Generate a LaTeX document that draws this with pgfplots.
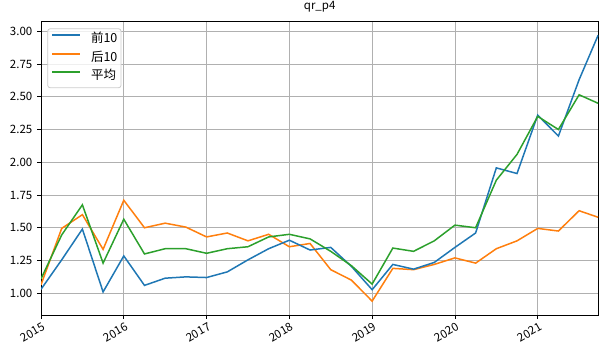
\documentclass[border=0pt]{standalone}
\usepackage{fontspec}
\setmainfont{Noto Sans CJK SC}
\usepackage{pgfplots}
\usepackage{pgfplotstable}
\pgfplotsset{compat=1.18}
\definecolor{tabblue}{HTML}{1F77B4}
\definecolor{taborange}{HTML}{FF7F0E}
\definecolor{tabgreen}{HTML}{2CA02C}
\definecolor{gridgray}{HTML}{B0B0B0}
\definecolor{legedge}{HTML}{CCCCCC}
\pgfplotstableread{
x a b c
0.00 1.030 1.065 1.110
0.25 1.255 1.495 1.445
0.50 1.490 1.600 1.675
0.75 1.010 1.335 1.230
1.00 1.285 1.710 1.565
1.25 1.060 1.500 1.300
1.50 1.115 1.535 1.340
1.75 1.125 1.505 1.340
2.00 1.120 1.430 1.305
2.25 1.163 1.460 1.340
2.50 1.255 1.400 1.355
2.75 1.340 1.450 1.430
3.00 1.405 1.355 1.450
3.25 1.330 1.380 1.415
3.50 1.350 1.180 1.320
3.75 1.205 1.100 1.210
4.00 1.027 0.940 1.070
4.25 1.220 1.190 1.345
4.50 1.184 1.180 1.320
4.75 1.235 1.220 1.400
5.00 1.350 1.270 1.520
5.25 1.460 1.230 1.500
5.50 1.957 1.340 1.863
5.75 1.914 1.400 2.060
6.00 2.360 1.495 2.350
6.25 2.200 1.475 2.250
6.50 2.630 1.630 2.515
6.73 2.970 1.580 2.450
}\datatable
\begin{document}
\begin{tikzpicture}
\useasboundingbox (0,0) rectangle (605bp,352bp);
\begin{axis}[
  at={(41bp,37bp)}, anchor=south west,
  scale only axis, width=557.3bp, height=293.7bp,
  xmin=0, xmax=6.732, ymin=0.834, ymax=3.076,
  xtick={0,1,2,3,4,5,6},
  xticklabels={2015,2016,2017,2018,2019,2020,2021},
  ytick={1,1.25,1.5,1.75,2,2.25,2.5,2.75,3},
  yticklabel style={/pgf/number format/fixed, /pgf/number format/fixed zerofill, /pgf/number format/precision=2},
  /pgf/number format/assume math mode=true,
  tick label style={font=\fontsize{11.5bp}{13bp}\selectfont, inner sep=0pt},
  yticklabel style={anchor=east, xshift=-5bp},
  xticklabel style={rotate=30, anchor=north east, yshift=-3.5bp, xshift=-1bp},
  tick align=outside, tick pos=left,
  major tick length=3.5bp,
  every tick/.style={black, line width=0.8bp},
  axis line style={line width=0.8bp, black},
  grid=major,
  major grid style={gridgray, line width=0.8bp},
  title={qr\_p4},
  title style={at={(0.5,1)}, anchor=base, yshift=5.8bp, inner sep=0pt, font=\fontsize{11.5bp}{13bp}\selectfont},
  legend cell align=left,
  legend style={at={(rel axis cs:0.0113,0.976)}, anchor=north west,
    draw=legedge, line width=0.8bp, rounded corners=2.5bp, fill=white, fill opacity=0.8, draw opacity=1, text opacity=1,
    inner xsep=3.7bp, inner ysep=5.5bp, row sep=7.5bp,
    font=\fontsize{12.5bp}{14bp}\selectfont,
    nodes={inner sep=0pt, text height=8.5bp, text depth=2.5bp},
    /tikz/every odd column/.append style={column sep=10bp}},
  legend image code/.code={\draw[#1, line width=1.6bp, opacity=1] (0bp,4.5bp) -- (28bp,4.5bp);},
]
\addplot[taborange, line width=1.5bp, forget plot] table[x=x, y=b] {\datatable};
\addplot[tabblue, line width=1.5bp] table[x=x, y=a] {\datatable};
\addlegendentry{前10}
\addlegendimage{taborange, line width=1.5bp}
\addlegendentry{后10}
\addplot[tabgreen, line width=1.5bp] table[x=x, y=c] {\datatable};
\addlegendentry{平均}
\end{axis}
\end{tikzpicture}
\end{document}
